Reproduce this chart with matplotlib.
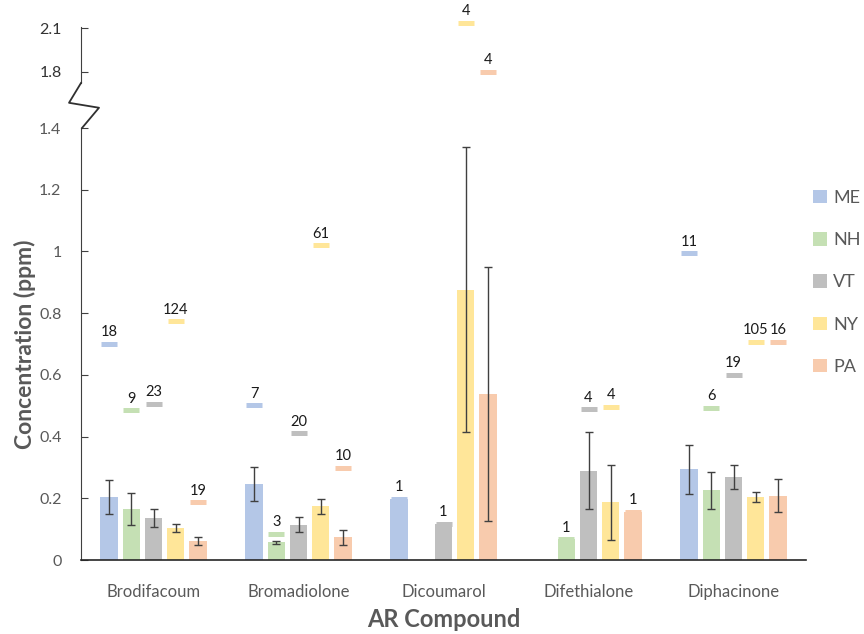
import matplotlib
matplotlib.use("Agg")
from matplotlib import pyplot as plt
from matplotlib.lines import Line2D
from matplotlib.patches import Patch
import numpy as np

compounds = ["Brodifacoum", "Bromadiolone", "Dicoumarol", "Difethialone", "Diphacinone"]
states = ["ME", "NH", "VT", "NY", "PA"]
colors = ["#B4C7E7", "#C5E0B4", "#BFBFBF", "#FFE699", "#F8CBAD"]

# mean concentration (ppm), None = no detections
mean_me = [0.205, 0.247, 0.198, None, 0.294]
mean_nh = [0.165, 0.058, None, 0.067, 0.226]
mean_vt = [0.135, 0.115, 0.118, 0.290, 0.268]
mean_ny = [0.105, 0.174, 0.876, 0.187, 0.204]
mean_pa = [0.063, 0.073, 0.538, 0.157, 0.209]

# error bar half-widths
err_me = [0.055, 0.056, None, None, 0.080]
err_nh = [0.053, 0.005, None, None, 0.060]
err_vt = [0.029, 0.024, None, 0.125, 0.039]
err_ny = [0.013, 0.025, 0.462, 0.122, 0.017]
err_pa = [0.013, 0.023, 0.410, None, 0.055]

# maximum concentration
max_me = [0.700, 0.501, 0.198, None, 0.994]
max_nh = [0.485, 0.084, None, 0.067, 0.493]
max_vt = [0.506, 0.411, 0.118, 0.488, 0.601]
max_ny = [0.773, 1.020, 2.140, 0.497, 0.708]
max_pa = [0.187, 0.298, 1.800, 0.157, 0.708]

# number of detections
n_me = [18, 7, 1, None, 11]
n_nh = [9, 3, None, 1, 6]
n_vt = [23, 20, 1, 4, 19]
n_ny = [124, 61, 4, 4, 105]
n_pa = [19, 10, 4, 1, 16]

means = [mean_me, mean_nh, mean_vt, mean_ny, mean_pa]
errs = [err_me, err_nh, err_vt, err_ny, err_pa]
maxes = [max_me, max_nh, max_vt, max_ny, max_pa]
counts = [n_me, n_nh, n_vt, n_ny, n_pa]

plt.rcParams["font.family"] = ["Lato", "DejaVu Sans"]
grey = "#595959"

W, H = 864, 634
fig = plt.figure(figsize=(W / 100, H / 100), dpi=100)

left, right = 81 / W, 806 / W
ax = fig.add_axes([left, 1 - 560 / H, right - left, (560 - 128) / H])
ax_top = fig.add_axes([left, 1 - 83 / H, right - left, 83 / H], sharex=ax)

ax.set_ylim(0, 1.4)
top_scale = 144.6  # px per ppm in the upper segment
ax_top.set_ylim(1.8 - (83 - 71.7) / top_scale, 2.1 + 28.3 / top_scale)

x = np.arange(len(compounds))
step, width = 0.153, 0.12

for i, (st, col) in enumerate(zip(states, colors)):
    xi = x + (i - 2) * step
    m = np.array([np.nan if v is None else v for v in means[i]])
    e = np.array([np.nan if v is None else v for v in errs[i]])
    ax.bar(xi, np.nan_to_num(m), width, color=col, zorder=2)
    ax.errorbar(xi, m, yerr=e, fmt="none", ecolor="#404040", elinewidth=1,
                capsize=3, capthick=1, zorder=3)
    for xx, mx, n in zip(xi, maxes[i], counts[i]):
        if mx is None:
            continue
        target = ax if mx <= 1.4 else ax_top
        target.plot(xx, mx, marker="_", ms=11.5, mew=3.6, color=col,
                    zorder=4, clip_on=False)
        target.annotate(str(n), (xx, mx), xytext=(0, 5.5), textcoords="offset points",
                        ha="center", va="baseline", fontsize=10.5, color="#1a1a1a",
                        annotation_clip=False)

ax.set_xlim(-0.5, len(compounds) - 0.5)
ax.set_xticks(x)
ax.set_xticklabels(compounds, fontsize=12, color=grey)
ax.tick_params(axis="x", length=0, pad=17)
ax.set_yticks([0, 0.2, 0.4, 0.6, 0.8, 1, 1.2, 1.4])
ax.set_yticklabels(["0", "0.2", "0.4", "0.6", "0.8", "1", "1.2", "1.4"])
ax.tick_params(axis="y", direction="in", length=5, pad=14, labelsize=11.5,
               labelcolor=grey, color="#404040")

ax_top.set_yticks([1.8, 2.1])
ax_top.set_yticklabels(["1.8", "2.1"])
ax_top.tick_params(axis="y", direction="in", length=5, pad=14, labelsize=11.5,
                   labelcolor="#333333", color="#404040")
ax_top.tick_params(axis="x", which="both", bottom=False, labelbottom=False)

for a in (ax, ax_top):
    a.set_facecolor("none")
    a.spines["top"].set_visible(False)
    a.spines["right"].set_visible(False)
    a.spines["left"].set_color("#404040")
ax_top.spines["bottom"].set_visible(False)
ax.spines["bottom"].set_color("#262626")
ax.spines["bottom"].set_linewidth(1.2)
ax_top.spines["left"].set_bounds(ax_top.get_ylim()[0], 2.1 + 1.3 / top_scale)

# zig-zag break between the two segments
b0 = ax_top.get_position().y0
b1 = ax.get_position().y1
gap = b0 - b1
xs = [left, left - 12 / W, left + 18 / W, left + 1 / W]
ys = [b0, b0 - gap * 0.44, b0 - gap * 0.55, b1]
fig.add_artist(Line2D(xs, ys, transform=fig.transFigure, color="#303030", lw=1.3))

ax.set_ylabel("Concentration (ppm)", fontsize=16.5, fontweight="bold", color=grey,
              labelpad=2)
ax.set_xlabel("AR Compound", fontsize=17, fontweight="bold", color=grey, labelpad=6)

handles = [Patch(facecolor=c, edgecolor="none") for c in colors]
fig.legend(handles, states, loc="upper left", bbox_to_anchor=(804 / W, 1 - 181 / H),
           frameon=False, fontsize=13, handlelength=0.75, handleheight=0.75,
           handletextpad=0.35, labelspacing=1.45, labelcolor=grey, borderpad=0)

fig.savefig("out.png", dpi=100)
